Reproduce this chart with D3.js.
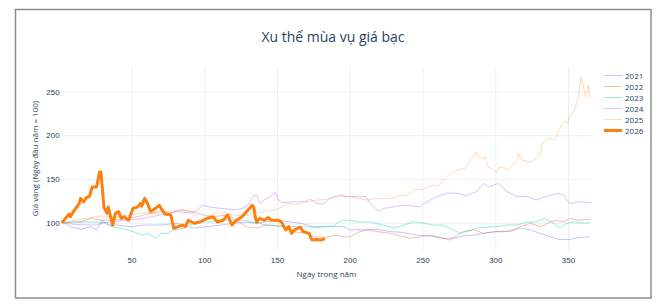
<!DOCTYPE html>
<html>
<head>
<meta charset="utf-8">
<script src="https://cdn.jsdelivr.net/npm/d3@7"></script>
<style>
  body { margin: 0; background: #fff; }
  svg { display: block; font-family: "Open Sans", sans-serif; }
  .axis text { fill: #2a3f5f; font-size: 8px; }
  .axis path { display: none; }
  .grid line { stroke: #ebf0f8; stroke-width: 1; }
  .grid path { display: none; }
</style>
</head>
<body>
<svg width="665" height="305"></svg>
<script>
// Năm và màu
const years = ["2021", "2022", "2023", "2024", "2025", "2026"];
const colors = ["#636efa", "#ef553b", "#00cc96", "#ab63fa", "#ffa15a", "#ff7f0e"];

// Ngày trong năm / giá (ngày đầu năm = 100)
const days2021 = [4, 8, 15, 22, 26, 30, 33, 40, 49, 58, 70, 81, 88, 93, 102, 111, 120, 129, 136, 141, 150, 159, 166, 177, 186, 196, 200, 209, 219, 228, 237, 246, 255, 264, 271, 278, 285, 292, 301, 310, 317, 324, 331, 338, 344, 351, 358, 365];
const vals2021 = [100, 95.6, 92.6, 95.6, 92, 103, 97.5, 97.5, 95.6, 97.5, 97.5, 99.5, 96.4, 94, 95.6, 97.5, 99.5, 101, 99.5, 101, 103, 101, 99.5, 95, 96.4, 95.6, 92, 92, 92.6, 90, 89, 86, 85, 82.4, 82.4, 85, 86, 88, 90, 90, 94, 92, 88, 84, 81, 81, 83.5, 84];

const days2022 = [3, 10, 15, 22, 29, 35, 47, 54, 63, 70, 77, 83, 93, 99, 106, 116, 122, 129, 136, 143, 154, 161, 170, 177, 184, 191, 196, 200, 207, 212, 219, 228, 235, 241, 248, 255, 262, 269, 274, 278, 285, 292, 299, 306, 312, 317, 324, 331, 338, 342, 347, 351, 357, 365];
const vals2022 = [100, 101, 101, 105, 103, 103, 105, 107, 111, 113, 111, 114.7, 112.7, 109, 107, 109, 103, 95.6, 94, 97.5, 95.6, 90, 88, 84, 83.5, 86, 84, 84, 90, 92, 90, 88, 85, 82.4, 84, 86, 83.5, 80.4, 86, 90, 92, 88, 90, 90, 92, 95.6, 99.5, 95.6, 101, 103, 101, 105, 103, 104];

const days2023 = [3, 12, 24, 33, 36, 42, 51, 58, 61, 65, 67, 70, 74, 79, 86, 88, 92, 95, 99, 106, 113, 120, 127, 132, 143, 154, 166, 177, 189, 192, 195, 200, 207, 214, 223, 230, 237, 244, 251, 257, 264, 271, 276, 280, 287, 294, 301, 308, 315, 322, 328, 334, 340, 344, 349, 354, 358, 365];
const vals2023 = [100, 101, 101, 100, 96, 94, 90, 86, 88, 84, 82.4, 88, 88, 92, 94, 97.5, 97.5, 101, 101, 101, 103, 103, 103, 101, 97.5, 96.4, 95.6, 95, 95.6, 101, 103, 103, 101, 101, 97.5, 94, 97.5, 101, 99.5, 97.5, 97.5, 92, 88, 90, 94, 95, 95.6, 97.5, 97.5, 101, 101, 105, 99.5, 94, 99.5, 101, 100, 100];

const days2024 = [2, 12, 24, 35, 47, 58, 70, 81, 92, 99, 104, 111, 122, 129, 134, 136, 138, 141, 145, 149, 151, 154, 161, 168, 173, 177, 182, 186, 193, 198, 205, 211, 214, 220, 223, 229, 235, 241, 248, 253, 260, 267, 274, 280, 287, 292, 296, 302, 308, 315, 322, 328, 335, 342, 347, 351, 358, 366];
const vals2024 = [100, 98, 97.5, 101, 103, 105, 109, 113, 111, 120, 118, 116.6, 114.7, 118, 131, 132, 122, 126, 130, 134.5, 126, 123, 124, 124, 127, 122, 122, 128, 132, 130, 130, 130, 122, 113, 116.6, 118, 120, 120, 118, 124, 130, 134, 133.7, 131, 135.6, 145, 141, 145, 135.6, 130, 130, 126, 130, 133.7, 132, 122, 124, 123];

const days2025 = [2, 8, 15, 22, 30, 37, 45, 52, 60, 67, 75, 85, 92, 97, 101, 106, 113, 120, 127, 132, 141, 150, 157, 163, 168, 172, 177, 185, 193, 200, 206, 212, 218, 223, 230, 234, 239, 244, 251, 257, 261, 263, 269, 274, 279, 282, 285, 287, 288, 291, 293, 295, 298, 300, 301, 303, 307, 309, 312, 315, 316, 318, 322, 325, 328, 331, 332, 335, 338, 340, 342, 343, 346, 348, 350, 351, 354, 355, 357, 359, 360, 362, 363, 364, 365];
const vals2025 = [100, 102, 104, 106, 108, 106, 108, 110, 112, 110, 113, 115, 112, 103, 106, 110, 112, 109, 108, 109, 113, 115, 122, 121, 123, 124, 126, 127, 130, 130, 128, 126, 128, 128, 128, 131, 131, 137.5, 139, 143, 142, 147, 156.6, 160, 162, 168, 175.5, 181, 175.5, 173.7, 175.5, 164, 162, 158.5, 157, 164, 162, 160, 166, 172, 179, 172, 170, 170, 174, 177.5, 191, 194.6, 196.6, 194.6, 196, 204, 212, 215.5, 213.7, 223, 227, 232.6, 242, 267, 259, 244, 248, 257.5, 242];

const days2026 = [2, 4, 7, 8, 10, 14, 15, 17, 19, 21, 23, 26, 28, 29, 31, 33, 34, 37, 39, 41, 43, 45, 48, 51, 54, 56, 57, 59, 61, 63, 65, 69, 71, 73, 77, 79, 82, 85, 87, 89, 93, 97, 102, 106, 109, 113, 116, 119, 122, 126, 129, 133, 134, 135, 136, 138, 141, 144, 146, 151, 153, 156, 158, 160, 162, 166, 168, 172, 174, 177, 180, 183];
const vals2026 = [100, 104, 110, 107, 112.7, 122, 128, 124, 129, 130, 141, 141, 158, 158, 118, 111, 118, 97.5, 111, 113, 105, 107, 103, 116.6, 118, 122, 119, 128, 122, 113, 114.7, 120, 114.7, 110, 109, 93.8, 95.6, 97.5, 95.6, 103, 99.5, 101, 105, 107, 101, 103, 109, 97.5, 103, 107, 112.7, 120, 118, 107, 101, 105, 103, 106, 103, 103, 101, 92, 95.6, 88, 92, 95, 90, 88, 80.4, 81, 80.4, 82];

// Nhãn trục
const xTicks = [50, 100, 150, 200, 250, 300, 350];
const yTicks = [100, 150, 200, 250];

const allDays = [days2021, days2022, days2023, days2024, days2025, days2026];
const allVals = [vals2021, vals2022, vals2023, vals2024, vals2025, vals2026];
const series = years.map((y, i) => ({
    name: y,
    color: colors[i],
    points: allDays[i].map((d, j) => ({ day: d, value: allVals[i][j] }))
}));

// Kich thuoc vung ve
const plot = { left: 61.7, right: 591.3, top: 67, bottom: 250 };

const svg = d3.select("svg");

// Khung
svg.append("rect")
    .attr("x", 15.5).attr("y", 9.5)
    .attr("width", 635.5).attr("height", 288.5)
    .attr("fill", "#fff")
    .attr("stroke", "#8c8c8c")
    .attr("stroke-width", 1.5);

const xScale = d3.scaleLinear().domain([2, 366]).range([plot.left, plot.right]);
const yScale = d3.scaleLinear().domain([69, 278]).range([plot.bottom, plot.top]);

// Luoi
svg.append("g")
    .attr("class", "grid")
    .attr("transform", `translate(0, ${plot.bottom})`)
    .call(d3.axisBottom(xScale).tickValues(xTicks).tickSize(-(plot.bottom - plot.top)).tickFormat(""));
svg.append("g")
    .attr("class", "grid")
    .attr("transform", `translate(${plot.left}, 0)`)
    .call(d3.axisLeft(yScale).tickValues(yTicks).tickSize(-(plot.right - plot.left)).tickFormat(""));

// Truc
const xAxisGroup = svg.append("g")
    .attr("class", "axis")
    .attr("transform", `translate(0, ${plot.bottom})`)
    .call(d3.axisBottom(xScale).tickValues(xTicks).tickSize(0).tickPadding(7));
const yAxisGroup = svg.append("g")
    .attr("class", "axis")
    .attr("transform", `translate(${plot.left}, 0)`)
    .call(d3.axisLeft(yScale).tickValues(yTicks).tickSize(0).tickPadding(2));

// Duong
const line = d3.line()
    .x(d => xScale(d.day))
    .y(d => yScale(d.value));

svg.append("g")
    .selectAll("path")
    .data(series)
    .enter()
    .append("path")
    .attr("d", d => line(d.points))
    .attr("fill", "none")
    .attr("stroke", d => d.color)
    .attr("stroke-width", d => d.name == "2026" ? 3 : 1)
    .attr("stroke-opacity", d => d.name == "2026" ? 1 : 0.4)
    .attr("stroke-linejoin", "round");

// Tieu de
svg.append("text")
    .attr("x", 333).attr("y", 42)
    .attr("text-anchor", "middle")
    .style("font-size", "14px")
    .style("fill", "#2a3f5f")
    .text("Xu thế mùa vụ giá bạc");

svg.append("text")
    .attr("x", (plot.left + plot.right) / 2).attr("y", 277)
    .attr("text-anchor", "middle")
    .style("font-size", "8px")
    .style("fill", "#2a3f5f")
    .text("Ngày trong năm");

svg.append("text")
    .attr("transform", `translate(38, ${(plot.top + plot.bottom) / 2}) rotate(-90)`)
    .attr("text-anchor", "middle")
    .style("font-size", "8px")
    .style("fill", "#2a3f5f")
    .text("Giá vàng (Ngày đầu năm = 100)");

// Chu giai
const legendGroup = svg.append("g")
    .attr("transform", "translate(604, 75.5)");
const legendItems = legendGroup.selectAll("g")
    .data(series)
    .enter()
    .append("g")
    .attr("transform", (d, i) => `translate(0, ${i * 11})`);
legendItems.append("line")
    .attr("x1", 0).attr("x2", 18)
    .attr("stroke", d => d.color)
    .attr("stroke-width", d => d.name == "2026" ? 3 : 1)
    .attr("stroke-opacity", d => d.name == "2026" ? 1 : 0.4);
legendItems.append("text")
    .attr("x", 21).attr("y", 3)
    .style("font-size", "8px")
    .style("fill", "#2a3f5f")
    .text(d => d.name);
</script>
</body>
</html>
